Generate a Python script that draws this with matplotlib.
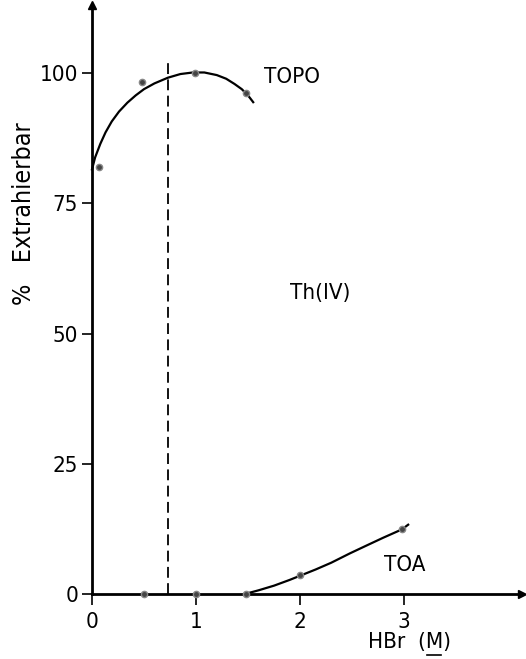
import matplotlib
matplotlib.use("Agg")
import matplotlib.pyplot as plt

plt.rcParams['font.family'] = ['DejaVu Sans']
plt.rcParams['font.stretch'] = 'condensed'

# measured points
topo_x = [0.07, 0.48, 0.99, 1.48]
topo_y = [82, 98.3, 100, 96.2]
toa_x = [0.5, 1.0, 1.48, 2.0, 2.98]
toa_y = [0, 0, 0, 3.7, 12.4]

# hand drawn guide curves
topo_cx = [0.0, 0.03, 0.08, 0.13, 0.19, 0.26, 0.34, 0.42, 0.50, 0.60, 0.73, 0.85,
           0.97, 1.08, 1.20, 1.29, 1.37, 1.44, 1.50, 1.55]
topo_cy = [81.5, 83.8, 86.4, 88.6, 90.7, 92.6, 94.3, 95.7, 96.9, 98.0, 99.1, 99.8,
           100.1, 100.1, 99.6, 98.9, 97.9, 96.9, 95.7, 94.4]
toa_cx = [1.47, 1.6, 1.75, 1.9, 2.0, 2.15, 2.3, 2.48, 2.65, 2.8, 2.98, 3.04]
toa_cy = [0, 0.7, 1.6, 2.7, 3.5, 4.7, 6.0, 7.8, 9.4, 10.8, 12.4, 13.3]

dash_x = 0.73
yticks = [0, 25, 50, 75, 100]
xticks = [0, 1, 2, 3]

fig = plt.figure(figsize=(5.26, 6.59), dpi=100)
ax = fig.add_axes([92/526, 65/659, 430/526, 589/659])
ax.set_xlim(0, 430/104)
ax.set_ylim(0, 589/5.21)

for s in ['top', 'right']:
    ax.spines[s].set_visible(False)
ax.spines['left'].set_linewidth(2)
ax.spines['bottom'].set_linewidth(2)
ax.plot(1, 0, '>', color='k', markersize=6, transform=ax.transAxes, clip_on=False)
ax.plot(0, 1, '^', color='k', markersize=6, transform=ax.transAxes, clip_on=False)

ax.set_xticks(xticks)
ax.set_yticks(yticks)
ax.tick_params(axis='both', direction='out', length=8, width=1.2, labelsize=16, pad=5)
ax.tick_params(axis='y', length=7, pad=3)

ax.plot(topo_cx, topo_cy, color='k', lw=1.6, clip_on=False)
ax.plot(toa_cx, toa_cy, color='k', lw=1.6, clip_on=False)
ax.plot(topo_x, topo_y, 'o', color='#444444', mec='#888888', ms=4.5, clip_on=False)
ax.plot(toa_x, toa_y, 'o', color='#444444', mec='#888888', ms=4.5, clip_on=False, zorder=5)
ax.plot([dash_x, dash_x], [0, 102], color='k', lw=1.3, ls=(0, (6, 3)))

ax.text(1.92, 99.2, 'TOPO', fontsize=16, ha='center', va='center')
ax.text(2.19, 57.8, 'Th(IV)', fontsize=16, ha='center', va='center')
ax.text(3.01, 5.6, 'TOA', fontsize=16, ha='center', va='center')

fig.text(24/526, 1 - 214/659, '%   Extrahierbar', fontsize=18, rotation=90,
         ha='center', va='center')
fig.text(409/526, 1 - 642/659, 'HBr  (M)', fontsize=16, ha='center', va='center')
fig.add_artist(plt.Line2D([427/526, 441/526], [1 - 655/659, 1 - 655/659],
                          color='k', lw=1.2))

fig.savefig('out.png', dpi=100)
